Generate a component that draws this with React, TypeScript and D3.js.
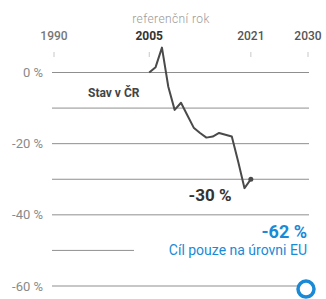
import React, { useRef, useEffect } from 'react';
import * as d3 from 'd3';

// year ticks shown on top
const yearTicks = [1990, 2005, 2021, 2030];
// percent gridlines / labels
const gridValues = [0, -10, -20, -30, -40, -50, -60];
const labelValues = [0, -20, -40, -60];

// emissions change vs. 2005 (%)
const years = [2005, 2006, 2007, 2008, 2009, 2010, 2011, 2012, 2013, 2014, 2015, 2016, 2017, 2018, 2019, 2020, 2021];
const values = [0, 1.5, 7, -4, -10.5, -8.5, -12, -15.5, -17, -18.3, -18, -17, -17.5, -18, -25, -32.5, -30];

const targetYear = 2030;
const targetValue = -62;

const W = 326;
const H = 299;

function App() {
  const ref = useRef<SVGSVGElement>(null);

  useEffect(() => {
    const svg = d3.select(ref.current);
    svg.selectAll('*').remove();

    const font = 'Roboto, "Noto Sans", sans-serif';

    const x = d3.scaleLinear().domain([1990, 2030]).range([54, 308]);
    const y = d3.scaleLinear().domain([0, -60]).range([72.5, 286]);

    // gridlines
    svg.append('g')
      .selectAll('line')
      .data(gridValues)
      .join('line')
      .attr('x1', 52)
      .attr('x2', 309)
      .attr('y1', d => y(d))
      .attr('y2', d => y(d))
      .attr('stroke', '#8f8f8f')
      .attr('stroke-width', 1);

    // y labels
    svg.append('g')
      .selectAll('text')
      .data(labelValues)
      .join('text')
      .attr('x', 43)
      .attr('y', d => y(d))
      .attr('dy', '0.35em')
      .attr('text-anchor', 'end')
      .attr('font-family', font)
      .attr('font-size', 13)
      .attr('fill', '#8a8a8a')
      .text(d => `${d} %`);

    // year ticks + labels
    const xg = svg.append('g');
    xg.selectAll('line')
      .data(yearTicks)
      .join('line')
      .attr('x1', d => x(d))
      .attr('x2', d => x(d))
      .attr('y1', 52)
      .attr('y2', 57)
      .attr('stroke', '#c8c8c8');
    xg.selectAll('text')
      .data(yearTicks)
      .join('text')
      .attr('x', d => x(d))
      .attr('y', 40)
      .attr('text-anchor', 'middle')
      .attr('font-family', font)
      .attr('font-size', 12)
      .attr('font-weight', d => (d === 2005 ? 700 : 500))
      .attr('fill', d => (d === 1990 ? '#777' : d === 2005 ? '#333' : '#555'))
      .text(d => d);

    svg.append('text')
      .attr('x', 171)
      .attr('y', 23)
      .attr('text-anchor', 'middle')
      .attr('font-family', font)
      .attr('font-size', 12)
      .attr('font-weight', 300)
      .attr('letter-spacing', 0.4)
      .attr('fill', '#999')
      .text('referenční rok');

    // white box behind target text (hides part of -50 gridline)
    svg.append('rect')
      .attr('x', 134)
      .attr('y', 222)
      .attr('width', 180)
      .attr('height', 36)
      .attr('fill', '#fff');

    // line
    const line = d3.line<number>()
      .x((d, i) => x(years[i]))
      .y(d => y(d))
      .curve(d3.curveLinear);

    svg.append('path')
      .datum(values)
      .attr('d', line)
      .attr('fill', 'none')
      .attr('stroke', '#4a4a4a')
      .attr('stroke-width', 2)
      .attr('stroke-linejoin', 'round');

    svg.append('circle')
      .attr('cx', x(years[years.length - 1]))
      .attr('cy', y(values[values.length - 1]))
      .attr('r', 2.5)
      .attr('fill', '#4a4a4a');

    svg.append('text')
      .attr('x', 88)
      .attr('y', 97)
      .attr('font-family', font)
      .attr('font-size', 12)
      .attr('font-weight', 700)
      .attr('fill', '#444')
      .text('Stav v ČR');

    svg.append('text')
      .attr('x', 210)
      .attr('y', 201)
      .attr('text-anchor', 'middle')
      .attr('font-family', font)
      .attr('font-size', 17)
      .attr('font-weight', 700)
      .attr('fill', '#333')
      .text(`${values[values.length - 1]} %`);

    // target
    svg.append('text')
      .attr('x', 307)
      .attr('y', 238)
      .attr('text-anchor', 'end')
      .attr('font-family', font)
      .attr('font-size', 18)
      .attr('font-weight', 700)
      .attr('fill', '#1a8ad6')
      .text(`${targetValue} %`);
    svg.append('text')
      .attr('x', 307)
      .attr('y', 255)
      .attr('text-anchor', 'end')
      .attr('font-family', font)
      .attr('font-size', 14)
      .attr('fill', '#1a8ad6')
      .text('Cíl pouze na úrovni EU');

    svg.append('circle')
      .attr('cx', x(targetYear) - 2)
      .attr('cy', y(targetValue) - 4)
      .attr('r', 8)
      .attr('fill', '#fff')
      .attr('stroke', '#1a8ad6')
      .attr('stroke-width', 3.5);
  }, []);

  return (
    <svg
      ref={ref}
      width={W}
      height={H}
      style={{ position: 'absolute', left: 0, top: 0, background: '#fff' }}
    />
  );
}

export default App;
